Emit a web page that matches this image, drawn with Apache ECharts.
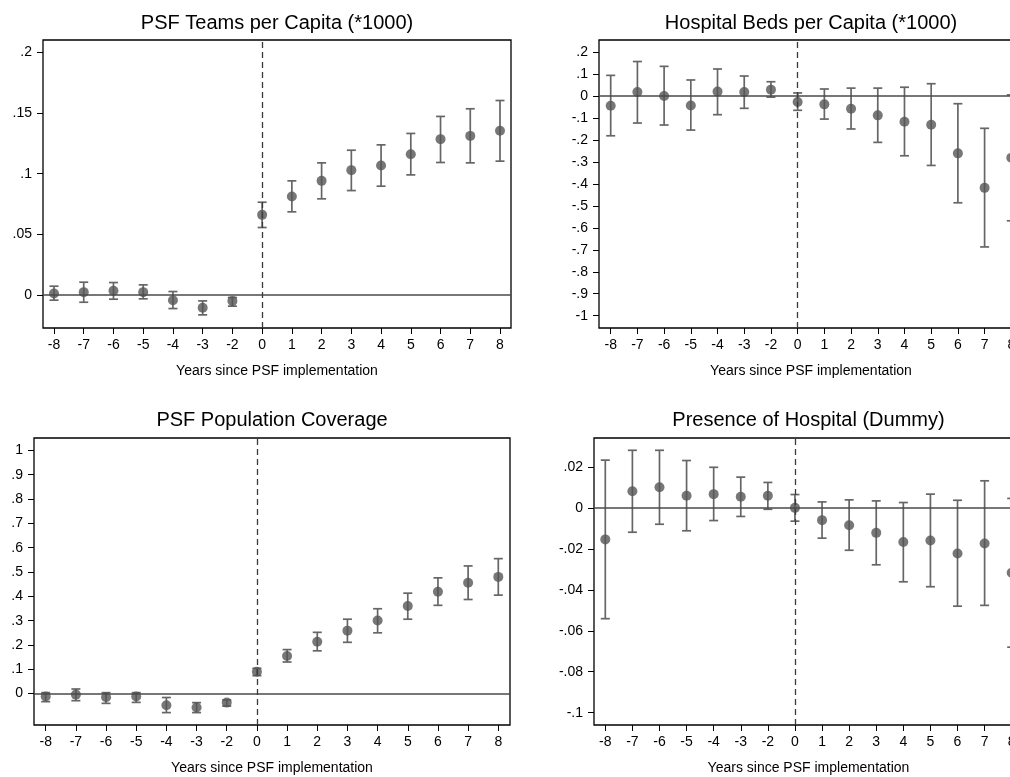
<!DOCTYPE html>
<html>
<head>
<meta charset="utf-8">
<script src="https://cdn.jsdelivr.net/npm/echarts@6/dist/echarts.min.js"></script>
<style>
html,body{margin:0;padding:0;background:#fff;overflow:hidden;}
#chart{width:1010px;height:777px;}
</style>
</head>
<body>
<div id="chart"></div>
<script>
// ---- categories ----
const years = ['-8','-7','-6','-5','-4','-3','-2','0','1','2','3','4','5','6','7','8'];
const xName = 'Years since PSF implementation';

// ---- PSF Teams per Capita (*1000) ----
const teamsTitle = 'PSF Teams per Capita (*1000)';
const teamsCoef = [0.0014, 0.0025, 0.0036, 0.0025, -0.0041, -0.0104, -0.0047, 0.0661, 0.0812, 0.0941, 0.1029, 0.1067, 0.1160, 0.1284, 0.1311, 0.1353];
const teamsLo   = [-0.0041, -0.0058, -0.0033, -0.0030, -0.0110, -0.0162, -0.0090, 0.0557, 0.0686, 0.0793, 0.0861, 0.0897, 0.0990, 0.1092, 0.1089, 0.1103];
const teamsHi   = [0.0074, 0.0107, 0.0104, 0.0085, 0.0030, -0.0047, -0.0019, 0.0765, 0.0941, 0.1089, 0.1193, 0.1237, 0.1331, 0.1471, 0.1534, 0.1602];
const teamsTicks = [0, 0.05, 0.1, 0.15, 0.2];
const teamsTickLabels = ['0', '.05', '.1', '.15', '.2'];

// ---- Hospital Beds per Capita (*1000) ----
const bedsTitle = 'Hospital Beds per Capita (*1000)';
const bedsCoef = [-0.044, 0.018, 0.000, -0.043, 0.020, 0.018, 0.029, -0.027, -0.038, -0.058, -0.088, -0.117, -0.131, -0.261, -0.418, -0.281];
const bedsLo   = [-0.181, -0.123, -0.132, -0.155, -0.085, -0.056, -0.005, -0.065, -0.105, -0.150, -0.211, -0.272, -0.316, -0.486, -0.687, -0.568];
const bedsHi   = [0.094, 0.157, 0.135, 0.073, 0.123, 0.091, 0.065, 0.014, 0.032, 0.036, 0.036, 0.040, 0.056, -0.035, -0.147, 0.005];
const bedsTicks = [0.2, 0.1, 0, -0.1, -0.2, -0.3, -0.4, -0.5, -0.6, -0.7, -0.8, -0.9, -1];
const bedsTickLabels = ['.2', '.1', '0', '-.1', '-.2', '-.3', '-.4', '-.5', '-.6', '-.7', '-.8', '-.9', '-1'];

// ---- PSF Population Coverage ----
const covTitle = 'PSF Population Coverage';
const covCoef = [-0.012, -0.004, -0.015, -0.012, -0.048, -0.057, -0.037, 0.090, 0.155, 0.213, 0.259, 0.301, 0.360, 0.419, 0.456, 0.480];
const covLo   = [-0.033, -0.029, -0.040, -0.036, -0.078, -0.078, -0.051, 0.074, 0.130, 0.176, 0.211, 0.250, 0.306, 0.363, 0.387, 0.405];
const covHi   = [0.004, 0.019, 0.004, 0.004, -0.016, -0.037, -0.026, 0.104, 0.181, 0.252, 0.306, 0.349, 0.413, 0.476, 0.525, 0.555];
const covTicks = [0, 0.1, 0.2, 0.3, 0.4, 0.5, 0.6, 0.7, 0.8, 0.9, 1];
const covTickLabels = ['0', '.1', '.2', '.3', '.4', '.5', '.6', '.7', '.8', '.9', '1'];

// ---- Presence of Hospital (Dummy) ----
const hospTitle = 'Presence of Hospital (Dummy)';
const hospCoef = [-0.0154, 0.0081, 0.0101, 0.0059, 0.0067, 0.0054, 0.0059, 0.0000, -0.0060, -0.0085, -0.0122, -0.0167, -0.0159, -0.0223, -0.0174, -0.0317];
const hospLo   = [-0.0541, -0.0119, -0.0080, -0.0112, -0.0062, -0.0042, -0.0007, -0.0065, -0.0148, -0.0207, -0.0278, -0.0361, -0.0385, -0.0480, -0.0476, -0.0680];
const hospHi   = [0.0233, 0.0281, 0.0281, 0.0231, 0.0198, 0.0150, 0.0124, 0.0065, 0.0029, 0.0039, 0.0034, 0.0026, 0.0067, 0.0037, 0.0132, 0.0046];
const hospTicks = [0.02, 0, -0.02, -0.04, -0.06, -0.08, -0.1];
const hospTickLabels = ['.02', '0', '-.02', '-.04', '-.06', '-.08', '-.1'];

// ---- layout / style ----
const FONT = "'Liberation Sans', Arial, sans-serif";
const panels = [
  {title: teamsTitle, coef: teamsCoef, lo: teamsLo, hi: teamsHi, ticks: teamsTicks, labels: teamsTickLabels,
   grid: {left: 43, top: 40, width: 468, height: 288}, pad: 0.37, ymin: -0.027, ymax: 0.21, titleY: 23},
  {title: bedsTitle, coef: bedsCoef, lo: bedsLo, hi: bedsHi, ticks: bedsTicks, labels: bedsTickLabels,
   grid: {left: 599, top: 40, width: 424, height: 288}, pad: 0.438, ymin: -1.056, ymax: 0.255, titleY: 23},
  {title: covTitle, coef: covCoef, lo: covLo, hi: covHi, ticks: covTicks, labels: covTickLabels,
   grid: {left: 34, top: 438, width: 476, height: 287}, pad: 0.388, ymin: -0.129, ymax: 1.051, titleY: 420},
  {title: hospTitle, coef: hospCoef, lo: hospLo, hi: hospHi, ticks: hospTicks, labels: hospTickLabels,
   grid: {left: 594, top: 438, width: 429, height: 287}, pad: 0.417, ymin: -0.106, ymax: 0.0341, titleY: 420}
];
const zeroIndex = years.indexOf('0');

const grids = [], xAxes = [], yAxes = [], series = [], graphics = [];
panels.forEach((p, k) => {
  grids.push(Object.assign({show: true, borderColor: '#000', borderWidth: 1.3, backgroundColor: '#fff',
    containLabel: false, outerBoundsMode: 'none'}, p.grid));
  graphics.push({type: 'text', x: p.grid.left + p.grid.width / 2, y: p.titleY,
    style: {text: p.title, font: '20px ' + FONT, fill: '#000', textAlign: 'center', textVerticalAlign: 'middle'}});
  const idx = years.map((_, i) => i);
  xAxes.push({
    type: 'value', gridIndex: k, min: -p.pad, max: years.length - 1 + p.pad,
    axisLine: {show: false, onZero: false}, splitLine: {show: false},
    axisTick: {show: true, length: 6, customValues: idx, lineStyle: {color: '#000', width: 1}},
    axisLabel: {customValues: idx, margin: 10, color: '#000', fontSize: 14, fontFamily: FONT,
      hideOverlap: false, formatter: v => years[Math.round(v)]},
    name: xName, nameLocation: 'middle', nameGap: 36,
    nameTextStyle: {color: '#000', fontSize: 14, fontFamily: FONT}
  });
  yAxes.push({
    type: 'value', gridIndex: k, min: p.ymin, max: p.ymax,
    axisLine: {show: false, onZero: false}, splitLine: {show: false},
    axisTick: {show: true, length: 6, customValues: p.ticks, lineStyle: {color: '#000', width: 1}},
    axisLabel: {customValues: p.ticks, margin: 11, color: '#000', fontSize: 14, fontFamily: FONT,
      formatter: v => {
        let best = 0, bd = Infinity;
        p.ticks.forEach((t, i) => { const d = Math.abs(t - v); if (d < bd) { bd = d; best = i; } });
        return p.labels[best];
      }}
  });
  const pts = p.coef.map((c, i) => [i, c]);
  // reference lines (zero line and treatment line)
  series.push({
    type: 'line', xAxisIndex: k, yAxisIndex: k, data: pts, showSymbol: false, silent: true,
    lineStyle: {opacity: 0}, z: 1,
    markLine: {silent: true, symbol: 'none', label: {show: false}, animation: false,
      data: [
        {yAxis: 0, lineStyle: {type: 'solid', color: '#4a4a4a', width: 1.6}},
        {xAxis: zeroIndex, lineStyle: {type: [6, 4], color: '#3a3a3a', width: 1.3}}
      ]}
  });
  // error bars
  series.push({
    type: 'custom', xAxisIndex: k, yAxisIndex: k, z: 2, silent: true,
    data: p.coef.map((c, i) => [i, p.lo[i], p.hi[i]]),
    encode: {x: 0, y: [1, 2]},
    renderItem: (params, api) => {
      const x = api.value(0);
      const a = api.coord([x, api.value(2)]);
      const b = api.coord([x, api.value(1)]);
      const w = 4.5;
      const st = {stroke: '#666', lineWidth: 1.7};
      return {type: 'group', children: [
        {type: 'line', shape: {x1: a[0], y1: a[1], x2: b[0], y2: b[1]}, style: st},
        {type: 'line', shape: {x1: a[0] - w, y1: a[1], x2: a[0] + w, y2: a[1]}, style: st},
        {type: 'line', shape: {x1: b[0] - w, y1: b[1], x2: b[0] + w, y2: b[1]}, style: st}
      ]};
    }
  });
  // point estimates
  series.push({
    type: 'scatter', xAxisIndex: k, yAxisIndex: k, z: 3, data: pts,
    symbol: 'circle', symbolSize: 10, itemStyle: {color: '#555555'}
  });
});

const chart = echarts.init(document.getElementById('chart'), null, {renderer: 'canvas'});
chart.setOption({
  animation: false,
  backgroundColor: '#fff',
  grid: grids, xAxis: xAxes, yAxis: yAxes, series: series,
  graphic: graphics
});
</script>
</body>
</html>
